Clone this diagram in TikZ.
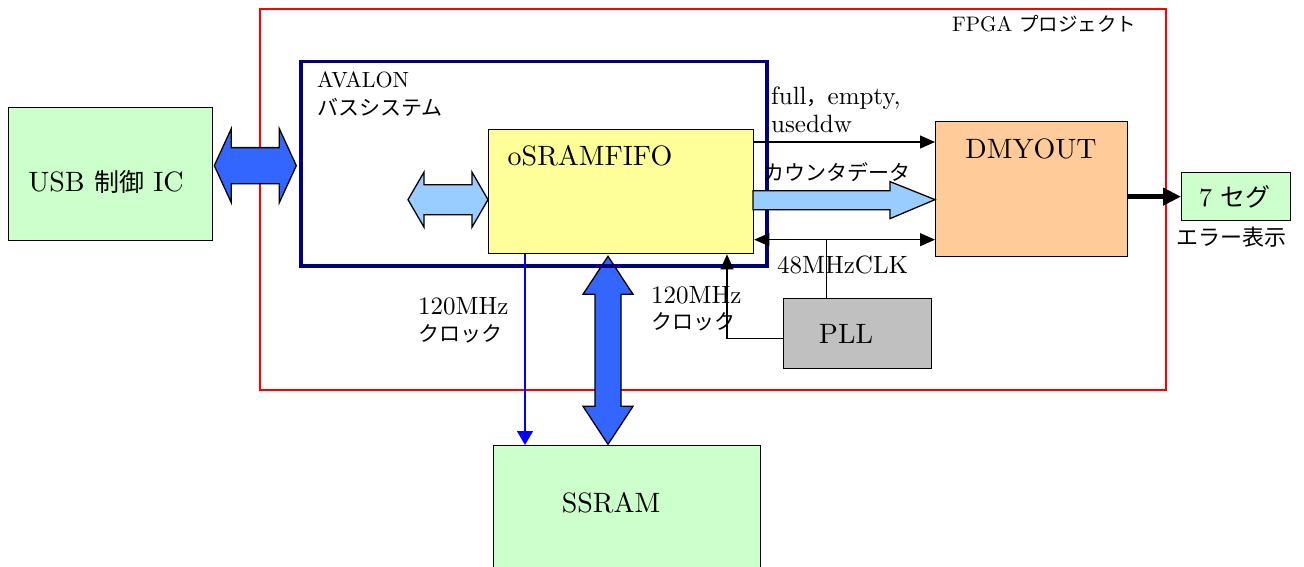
\documentclass[tikz,border=0pt]{standalone}
\usepackage{fontspec}
\setmainfont{lmroman10-regular.otf}
\newfontfamily\jp{Noto Sans CJK JP}
\usepackage{tikz}
\usetikzlibrary{arrows.meta, calc, positioning}

\definecolor{fpgared}{HTML}{FF0000}
\definecolor{avnavy}{HTML}{000080}
\definecolor{boxgreen}{HTML}{CCFFCC}
\definecolor{fifoyellow}{HTML}{FFFF99}
\definecolor{dmyorange}{HTML}{FFCC99}
\definecolor{pllgray}{HTML}{C0C0C0}
\definecolor{busblue}{HTML}{3366FF}
\definecolor{lightbus}{HTML}{99CCFF}
\definecolor{clkblue}{HTML}{0000FF}

\pgfdeclarelayer{back}
\pgfsetlayers{back,main}

\begin{document}
\begin{tikzpicture}[x=1pt, y=-1pt,
    box/.style={draw, line width=1.3pt, inner sep=0pt, anchor=north west},
    boxtxt/.style={font=\fontsize{28}{30}\selectfont, anchor=base, inner sep=0pt},
    smalltxt/.style={font=\fontsize{25}{28}\selectfont, anchor=base west, inner sep=0pt},
    jptxt/.style={font=\fontsize{21}{24}\jp, anchor=base west, inner sep=0pt},
    sig/.style={line width=1.3pt, -{Triangle[length=15pt,width=13pt]}},
    bus/.style={draw, line width=1.3pt, line join=miter},
  ]
  \useasboundingbox (0,0) rectangle (1304,567);

  % blocks
  \node[box, fill=boxgreen, minimum width=204pt, minimum height=133pt] (usb) at (8,107) {};
  \node[box, draw=avnavy, line width=3.5pt, minimum width=466pt, minimum height=204pt] (avalon) at (299,60) {};
  \node[box, fill=fifoyellow, minimum width=265pt, minimum height=124pt] (fifo) at (488,129) {};
  \node[box, fill=boxgreen, minimum width=267pt, minimum height=140pt] (ssram) at (493,445) {};
  \node[box, fill=dmyorange, minimum width=192pt, minimum height=135pt] (dmy) at (935,121) {};
  \node[box, fill=pllgray, minimum width=148pt, minimum height=70pt] (pll) at (783,298) {};
  \node[box, fill=boxgreen, minimum width=109pt, minimum height=48pt] (seg) at (1181,172) {};

  % FPGA frame and SRAM data bus go underneath
  \begin{pgfonlayer}{back}
    \node[box, draw=fpgared, line width=1.6pt, minimum width=906pt, minimum height=381pt] (fpga) at (259,8) {};
    \draw[bus, fill=busblue] ($(fifo.south west)+(120,2)$) -- ++(25,38) -- ++(-12,0) -- ++(0,112)
      -- ++(12,0) -- ++(-25,38) -- ++(-25,-38) -- ++(12,0) -- ++(0,-112) -- ++(-12,0) -- cycle;
  \end{pgfonlayer}
  \node[smalltxt, font=\fontsize{21}{24}\selectfont] (fpgatxt) at (952,32) {FPGA {\jp\fontsize{19.5}{24}\selectfont プロジェクト}};

  % block names
  \node[boxtxt] (usbtxt) at (106,191) {USB {\jp\fontsize{25}{30}\selectfont 制御} IC};
  \node[boxtxt] (fifotxt) at (590,165) {oSRAMFIFO};
  \node[boxtxt] (ssramtxt) at (611,512) {SSRAM};
  \node[boxtxt] (dmytxt) at (1031,159) {DMYOUT};
  \node[boxtxt] (plltxt) at (846,343) {PLL};
  \node[boxtxt, font=\fontsize{26}{28}\selectfont] (segtxt) at (1235,206) {7 {\jp\fontsize{25}{28}\selectfont セグ}};
  \node[jptxt, font=\fontsize{22}{24}\jp, anchor=base] (errtxt) at (1231,245) {エラー表示};
  \node[smalltxt, font=\fontsize{22}{24}\selectfont] (av1) at (317,88) {AVALON};
  \node[jptxt] (av2) at (317,116) {バスシステム};

  % host and local buses
  \draw[bus, fill=busblue] ($(usb.east)+(1,-8.5)$) -- ++(17,-37) -- ++(0,19) -- ++(48,0) -- ++(0,-19)
    -- ++(17,37) -- ++(-17,37) -- ++(0,-19) -- ++(-48,0) -- ++(0,19) -- cycle;
  \draw[bus, fill=lightbus] ($(fifo.west)+(0,8)$) -- ++(-16,-27.5) -- ++(0,12.5) -- ++(-48,0) -- ++(0,-12.5)
    -- ++(-16,27.5) -- ++(16,27.5) -- ++(0,-12.5) -- ++(48,0) -- ++(0,12.5) -- cycle;

  % FIFO status flags
  \draw[sig] ($(fifo.north east)+(0,13)$) -- ($(dmy.north west)+(0,21)$);
  \node[smalltxt] (flag1) at (771,105) {full{\jp\fontsize{21}{24}\selectfont ，}empty,};
  \node[smalltxt] (flag2) at (771,133) {useddw};

  % counter data
  \draw[bus, fill=lightbus] ($(dmy.west)+(0,10.5)$) -- ++(-45,-18) -- ++(0,9) -- ++(-137,0)
    -- ++(0,19) -- ++(137,0) -- ++(0,9) -- cycle;
  \node[jptxt] (cnt) at (763,180) {カウンタデータ};

  % 48MHz clock
  \coordinate (clkl) at ($(fifo.east)+(0,48)$);
  \coordinate (clkj) at ($(clkl)+(72,0)$);
  \draw[line width=1.3pt, {Triangle[length=15pt,width=13pt]}-{Triangle[length=15pt,width=13pt]}]
    (clkl) -- (clkl -| dmy.west);
  \draw[line width=1.3pt] (clkj) -- (clkj |- pll.north);
  \node[smalltxt] (clk48) at (777,273) {48MHzCLK};

  % 120MHz clock to FIFO
  \draw[sig] ($(pll.west)+(0,5)$) -| ($(fifo.south west)+(239,0)$);
  \node[smalltxt] (clka1) at (651,303) {120MHz};
  \node[jptxt] (clka2) at (651,329) {クロック};

  % 120MHz clock to SSRAM
  \coordinate (sclk) at ($(fifo.south west)+(37,0)$);
  \draw[clkblue, line width=1.3pt, -{Triangle[length=14pt,width=16pt]}] (sclk) -- (sclk |- ssram.north);
  \node[smalltxt] (clkb1) at (418,314) {120MHz};
  \node[jptxt] (clkb2) at (418,341) {クロック};

  % error display
  \draw[line width=5pt, -{Triangle[length=18pt,width=17pt]}] (dmy.east |- seg.west) -- (seg.west);
\end{tikzpicture}
\end{document}
